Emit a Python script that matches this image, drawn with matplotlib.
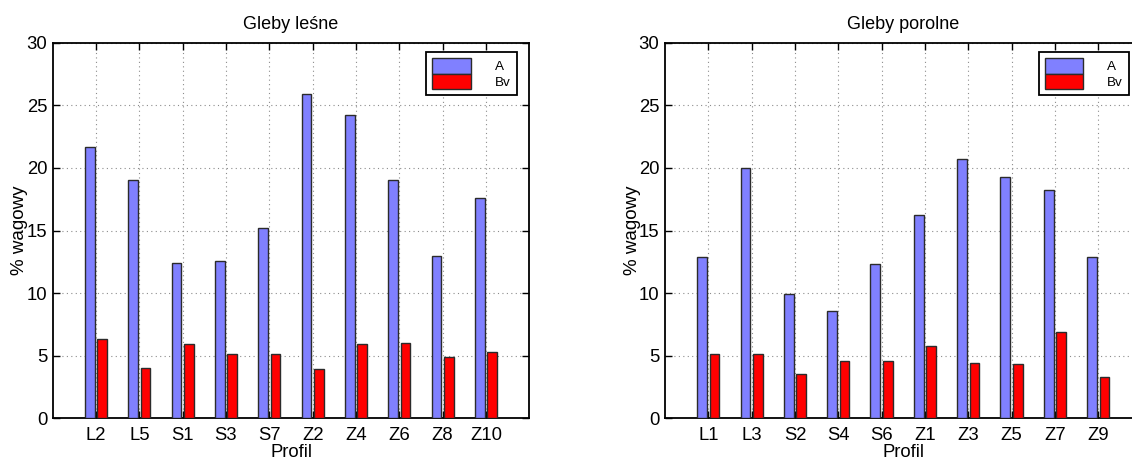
"""
Zawartość frakcji (% wagowy) w poziomach A i Bv dla profili glebowych,
osobno dla gleb leśnych i porolnych.
"""

import numpy as np
import matplotlib.pyplot as plt

# =========================================================
# Dane
# =========================================================

PROFILE_LESNE = ["L2", "L5", "S1", "S3", "S7", "Z2", "Z4", "Z6", "Z8", "Z10"]
A_LESNE = [21.7, 19.0, 12.4, 12.6, 15.2, 25.9, 24.2, 19.0, 13.0, 17.6]
BV_LESNE = [6.3, 4.0, 5.9, 5.1, 5.1, 3.9, 5.9, 6.0, 4.9, 5.3]

PROFILE_POROLNE = ["L1", "L3", "S2", "S4", "S6", "Z1", "Z3", "Z5", "Z7", "Z9"]
A_POROLNE = [12.9, 20.0, 9.9, 8.6, 12.3, 16.2, 20.7, 19.3, 18.2, 12.9]
BV_POROLNE = [5.1, 5.1, 3.5, 4.6, 4.6, 5.8, 4.4, 4.3, 6.9, 3.3]

SERIE = ["A", "Bv"]

# =========================================================
# Wygląd
# =========================================================

KOLOR_A = "#8080ff"
KOLOR_BV = "#ff0000"
KOLOR_KRAWEDZI = "#2b2b2b"

# szerokości słupków jak w grupowanym bar() z MATLABa
SZER_GRUPY = 2 / 3.5
SZER_SLUPKA = SZER_GRUPY / 2 * 0.8

FONT = ["Liberation Sans", "DejaVu Sans"]
plt.rcParams["font.family"] = FONT

W, H = 1132, 459


def rysuj_panel(ax, profile, a, bv, tytul):
    x = np.arange(1, len(profile) + 1)
    off = SZER_GRUPY / 4

    ax.bar(x - off, a, width=SZER_SLUPKA, color=KOLOR_A, edgecolor=KOLOR_KRAWEDZI,
           linewidth=1.0, label=SERIE[0], zorder=3)
    ax.bar(x + off, bv, width=SZER_SLUPKA, color=KOLOR_BV, edgecolor=KOLOR_KRAWEDZI,
           linewidth=1.0, label=SERIE[1], zorder=3)

    ax.set_xlim(0, len(profile) + 1)
    ax.set_ylim(0, 30)
    ax.set_xticks(x)
    ax.set_xticklabels(profile)
    ax.set_yticks(np.arange(0, 31, 5))

    ax.grid(True, color="#8c8c8c", linestyle=(0, (1, 3)), linewidth=0.8, zorder=0)
    ax.set_axisbelow(True)

    ax.tick_params(direction="in", length=5, width=1.0, top=True, right=True,
                   labelsize=13.3, pad=4)
    ax.tick_params(axis="x", pad=6)
    for s in ax.spines.values():
        s.set_linewidth(1.3)
        s.set_color("black")

    ax.set_title(tytul, fontsize=13, pad=10)
    ax.set_xlabel("Profil", fontsize=13.3, labelpad=0)
    ax.set_ylabel("% wagowy", fontsize=13.5, labelpad=-1.5)

    leg = ax.legend(loc="upper right", bbox_to_anchor=(0.9736, 0.9744), borderaxespad=0,
                    fontsize=9.7, handlelength=2.84, handleheight=1.35, labelspacing=0,
                    handletextpad=1.8, borderpad=0.45, fancybox=False, framealpha=1,
                    edgecolor="black")
    leg.get_frame().set_linewidth(1.3)


def main():
    fig = plt.figure(figsize=(W / 100, H / 100), dpi=100)

    bottom = (H - 418.3) / H
    height = 375.6 / H
    width = 476.6 / W
    ax1 = fig.add_axes([52.7 / W, bottom, width, height])
    ax2 = fig.add_axes([665 / W, bottom, width, height])

    rysuj_panel(ax1, PROFILE_LESNE, A_LESNE, BV_LESNE, "Gleby leśne")
    rysuj_panel(ax2, PROFILE_POROLNE, A_POROLNE, BV_POROLNE, "Gleby porolne")

    fig.savefig("out.png", dpi=100)
    plt.close(fig)


if __name__ == "__main__":
    main()
